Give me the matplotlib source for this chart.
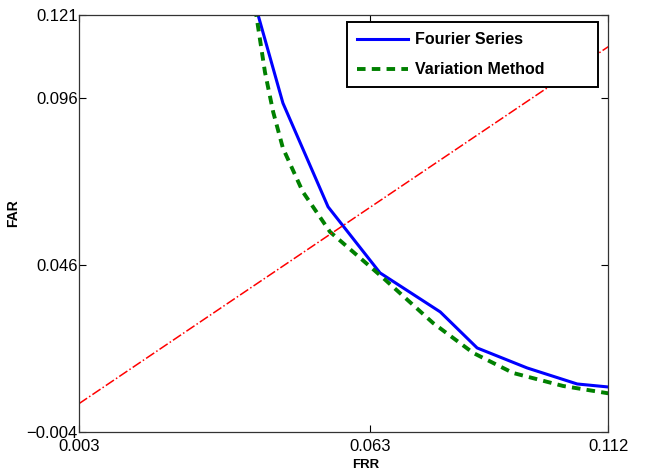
import matplotlib
matplotlib.use('Agg')
import matplotlib.pyplot as plt

plt.rcParams['font.family'] = ['Liberation Sans', 'DejaVu Sans']

# Fourier Series curve (FRR, FAR)
fourier_frr = [0.0395, 0.0450, 0.0543, 0.0650, 0.0774, 0.0850, 0.0953, 0.1056, 0.1120]
fourier_far = [0.1230, 0.0946, 0.0635, 0.0437, 0.0320, 0.0212, 0.0152, 0.0104, 0.0095]

# Variation Method curve
variation_frr = [0.0393, 0.0413, 0.0430, 0.0450, 0.0491, 0.0547, 0.0654, 0.0759, 0.0842, 0.0924, 0.1027, 0.1120]
variation_far = [0.1230, 0.1039, 0.0919, 0.0811, 0.0680, 0.0560, 0.0425, 0.0287, 0.0197, 0.0137, 0.0098, 0.0076]

# EER line
eer_frr = [0.003, 0.112]
eer_far = [0.0045, 0.1115]

x_ticks = [0.003, 0.063, 0.112]
y_ticks = [-0.004, 0.046, 0.096, 0.121]

fig = plt.figure(figsize=(6.49, 4.75), dpi=100)
ax = fig.add_axes([0.1217, 0.0905, 0.8155, 0.8779])

ax.plot(fourier_frr, fourier_far, color='#0000ff', lw=2.2, label='Fourier Series')
ax.plot(variation_frr, variation_far, color='#008000', lw=2.8, ls=(0, (2.2, 1.6)),
        label='Variation Method')
ax.plot(eer_frr, eer_far, color='#ff0000', lw=1.1, ls='-.')

ax.set_xlim(0.003, 0.112)
ax.set_ylim(-0.004, 0.121)
ax.set_xticks(x_ticks)
ax.set_yticks(y_ticks)
ax.set_xticklabels(['0.003', '0.063', '0.112'])
ax.set_yticklabels(['\u22120.004', '0.046', '0.096', '0.121'])
ax.tick_params(direction='in', length=5, width=0.8, top=True, right=True,
               labelsize=12)
ax.tick_params(axis='y', pad=1)
ax.tick_params(axis='x', pad=5)
for s in ax.spines.values():
    s.set_linewidth(0.9)
    s.set_color('#333333')

# axis labels sit a little off-centre in the original
ax.set_xlabel('FRR', fontsize=9.5, fontweight='bold')
ax.xaxis.set_label_coords(0.541, -0.064)
ax.set_ylabel('FAR', fontsize=10, fontweight='bold')
ax.yaxis.set_label_coords(-0.112, 0.524)

leg = ax.legend(loc='upper left', bbox_to_anchor=(0.5066, 0.0, 0.4745, 0.983),
                mode='expand', borderaxespad=0,
                prop={'weight': 'bold', 'size': 11.5}, fancybox=False,
                edgecolor='black', framealpha=1, handlelength=3.2,
                handletextpad=0.4, borderpad=0.63, labelspacing=0.94)
leg.get_frame().set_linewidth(1.4)

fig.savefig('out.png', dpi=100)
